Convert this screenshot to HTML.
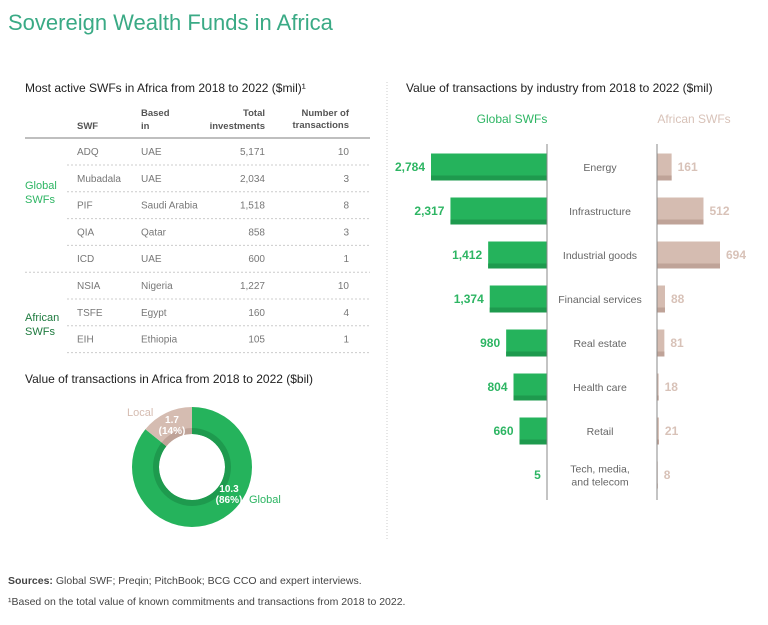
<!DOCTYPE html>
<html><head><meta charset="utf-8"><style>
body{margin:0;background:#fff;}
svg{display:block;font-family:"Liberation Sans",sans-serif;}
</style></head><body>
<svg id="c" width="768" height="625" viewBox="0 0 768 625">
<text x="8" y="30" font-size="22" fill="#3aaa85">Sovereign Wealth Funds in Africa</text>
<line x1="387" y1="82" x2="387" y2="540" stroke="#ccc" stroke-dasharray="1,2"/>
<text x="25" y="92" font-size="12" fill="#222">Most active SWFs in Africa from 2018 to 2022 ($mil)¹</text>
<g font-size="9.5" font-weight="bold" fill="#555">
<text x="77" y="129">SWF</text>
<text x="141" y="116">Based</text><text x="141" y="129">in</text>
<text x="265" y="116" text-anchor="end">Total</text><text x="265" y="129" text-anchor="end">investments</text>
<text x="349" y="116" text-anchor="end">Number of</text><text x="349" y="128" text-anchor="end">transactions</text>
</g>
<line x1="25" y1="138" x2="370" y2="138" stroke="#999" stroke-width="1.2"/>
<text x="25" y="189" font-size="11" fill="#2db563">Global</text>
<text x="25" y="203" font-size="11" fill="#2db563">SWFs</text>
<text x="25" y="321" font-size="11" fill="#1d7a3e">African</text>
<text x="25" y="335" font-size="11" fill="#1d7a3e">SWFs</text>
<g id="tbl" font-size="10" fill="#777"></g>
<text x="25" y="383" font-size="12" fill="#222">Value of transactions in Africa from 2018 to 2022 ($bil)</text>
<g id="donut"></g>
<text x="406" y="92" font-size="12" fill="#222">Value of transactions by industry from 2018 to 2022 ($mil)</text>
<text x="512" y="123" font-size="12" fill="#2db563" text-anchor="middle">Global SWFs</text>
<text x="694" y="123" font-size="12" fill="#d8c2b8" text-anchor="middle">African SWFs</text>
<g id="bars"></g>
<line x1="547" y1="144" x2="547" y2="500" stroke="#888"/>
<line x1="657" y1="144" x2="657" y2="500" stroke="#888"/>
<text x="8" y="584" font-size="10.5" fill="#444"><tspan font-weight="bold">Sources:</tspan> Global SWF; Preqin; PitchBook; BCG CCO and expert interviews.</text>
<text x="8" y="605" font-size="10.5" fill="#444">¹Based on the total value of known commitments and transactions from 2018 to 2022.</text>
</svg>
<script>
const swfNames=["ADQ","Mubadala","PIF","QIA","ICD","NSIA","TSFE","EIH"];
const swfBases=["UAE","UAE","Saudi Arabia","Qatar","UAE","Nigeria","Egypt","Ethiopia"];
const swfTotals=["5,171","2,034","1,518","858","600","1,227","160","105"];
const swfCounts=["10","3","8","3","1","10","4","1"];
const industries=["Energy","Infrastructure","Industrial goods","Financial services","Real estate","Health care","Retail","Tech, media,|and telecom"];
const globalVals=[2784,2317,1412,1374,980,804,660,5];
const africanVals=[161,512,694,88,81,18,21,8];
const donutLabels=["Global","Local"];
const donutVals=[10.3,1.7];
const NS="http://www.w3.org/2000/svg";
function mk(t,a,p){const e=document.createElementNS(NS,t);for(const k in a)e.setAttribute(k,a[k]);p.appendChild(e);return e;}
const tbl=document.getElementById('tbl');
swfNames.forEach((n,i)=>{
 const y=155+i*26.8;
 const r=mk('g',{},tbl);
 
 
 mk('text',{x:77,y:y},r).textContent=n;
 mk('text',{x:141,y:y},r).textContent=swfBases[i];
 mk('text',{x:265,y:y,'text-anchor':'end'},r).textContent=swfTotals[i];
 mk('text',{x:349,y:y,'text-anchor':'end'},r).textContent=swfCounts[i];
 const ly=y+10;
 mk('line',{x1:i==4?25:67,y1:ly,x2:370,y2:ly,stroke:'#ccc','stroke-dasharray':'2,2'},r);
});
const dg=document.getElementById('donut');
const cx=192,cy=467,R=60,r0=33,r1=39;
const tot=donutVals.reduce((a,b)=>a+b,0);
function arc(a0,a1,ro,ri){const p=(a,rr)=>[cx+rr*Math.sin(a),cy-rr*Math.cos(a)];const L=(a1-a0)>Math.PI?1:0;
 const[a,b]=p(a0,ro),[c,d]=p(a1,ro),[e,f]=p(a1,ri),[g,h]=p(a0,ri);
 return `M${a},${b}A${ro},${ro} 0 ${L} 1 ${c},${d}L${e},${f}A${ri},${ri} 0 ${L} 0 ${g},${h}Z`;}
let ang=0;const cols=[['#25b35c','#1e9a4e'],['#d5bcb1','#bfa398']];
donutVals.forEach((v,i)=>{
 const a1=ang+v/tot*2*Math.PI;
 const s=mk('path',{d:arc(ang,a1,R,r0),fill:cols[i][0]},dg);
 
 
 mk('path',{d:arc(ang,a1,r1,r0),fill:cols[i][1]},dg);
 ang=a1;
});
let t=mk('text',{x:229,y:492,'font-size':10,'font-weight':'bold',fill:'#fff','text-anchor':'middle'},dg);t.textContent=donutVals[0]+"";
t=mk('text',{x:229,y:503,'font-size':10,'font-weight':'bold',fill:'#fff','text-anchor':'middle'},dg);t.textContent="("+Math.round(donutVals[0]/tot*100)+"%)";
t=mk('text',{x:249,y:503,'font-size':11,fill:'#2db563'},dg);t.textContent=donutLabels[0];
t=mk('text',{x:172,y:423,'font-size':10,'font-weight':'bold',fill:'#fff','text-anchor':'middle'},dg);t.textContent=donutVals[1]+"";
t=mk('text',{x:172,y:434,'font-size':10,'font-weight':'bold',fill:'#fff','text-anchor':'middle'},dg);t.textContent="("+Math.round(donutVals[1]/tot*100)+"%)";
t=mk('text',{x:127,y:416,'font-size':11,fill:'#d5bcb1'},dg);t.textContent=donutLabels[1];
const bg=document.getElementById('bars');
const gx=v=>v*116/2784, ax=v=>v*63/694;
industries.forEach((ind,i)=>{
 const cy=167+i*44, h=27, y=cy-h/2;
 const g=mk('g',{},bg);
 
 
 const gw=gx(globalVals[i]);
 const b=mk('rect',{x:547-gw,y:y,width:gw,height:h,fill:'#25b35c'},g);
 
 
 mk('rect',{x:547-gw,y:y+h-5,width:gw,height:5,fill:'#1e9a4e'},g);
 let tx=mk('text',{x:547-gw-6,y:cy+4,'font-size':12,'font-weight':'bold',fill:'#2db563','text-anchor':'end'},g);
 tx.textContent=globalVals[i].toLocaleString('en-US');
 const aw=ax(africanVals[i]);
 const c=mk('rect',{x:657,y:y,width:aw,height:h,fill:'#d5bcb1'},g);
 
 
 mk('rect',{x:657,y:y+h-5,width:aw,height:5,fill:'#bfa398'},g);
 tx=mk('text',{x:657+aw+6,y:cy+4,'font-size':12,'font-weight':'bold',fill:'#d8c2b8'},g);
 tx.textContent=africanVals[i];
 const parts=ind.split('|');
 parts.forEach((p,k)=>{const l=mk('text',{x:600,y:cy+4+(k-(parts.length-1)/2)*13,'font-size':10.5,fill:'#666','text-anchor':'middle'},g);l.textContent=p;});
});
</script>
</body></html>
